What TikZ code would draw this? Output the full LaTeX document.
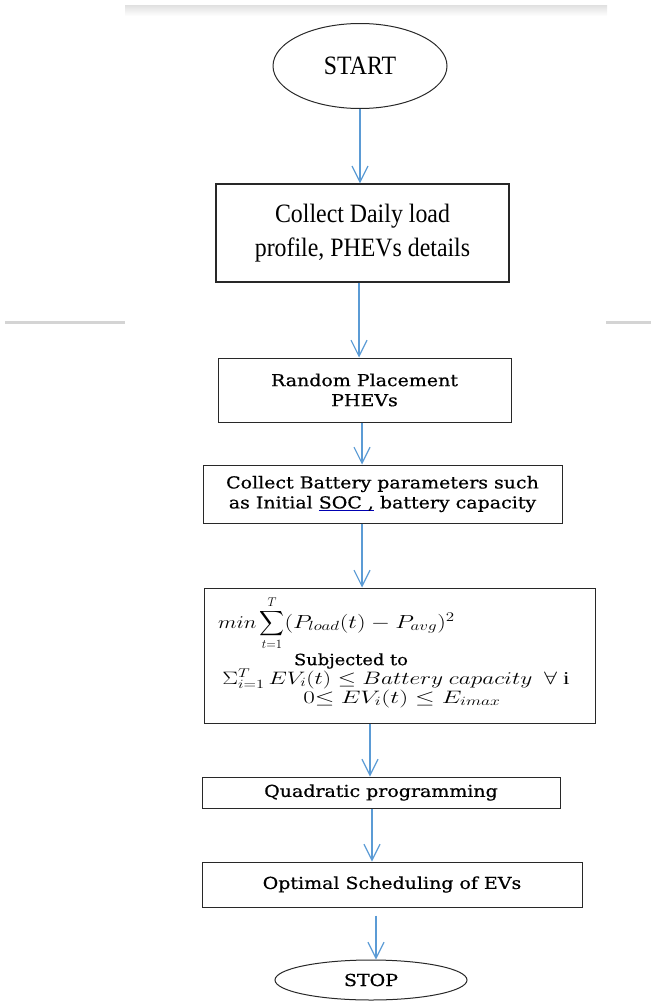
\RequirePackage{fix-cm}
\documentclass[tikz,border=0pt]{standalone}
\usepackage{exscale}
\usepackage{fontspec}
\usetikzlibrary{shapes.geometric,arrows.meta}
\setmainfont{Liberation Serif}
\newfontfamily\tallfont[FakeStretch=0.9]{Liberation Serif}
\newfontfamily\widefont[FakeStretch=1.15,FakeBold=0.6]{DejaVu Serif}
\definecolor{arrowblue}{RGB}{91,155,213}
\definecolor{boxline}{RGB}{40,40,40}
\newsavebox{\ulbox}
\newcommand{\blueul}[1]{\sbox{\ulbox}{#1}\rlap{\textcolor{blue!70!black}{\rule[-3pt]{\wd\ulbox}{1.2pt}}}\usebox{\ulbox}}
\tikzset{
  flowarrow/.style={draw=arrowblue, line width=1.2pt, -{Straight Barb[length=16pt,width=16pt,line width=1.2pt]}},
  termnode/.style={draw=boxline, ellipse, line width=1pt, inner sep=0pt},
  procbox/.style={draw=boxline, rectangle, line width=1pt, inner sep=0pt, align=center},
  bigtext/.style={font=\tallfont\fontsize{26.5}{34}\selectfont},
  smalltext/.style={font=\widefont\fontsize{16.5}{20}\selectfont},
  mathtext/.style={inner sep=0pt, font=\fontsize{18}{22}\selectfont},
}
\begin{document}
\begin{tikzpicture}[x=1pt,y=-1pt]
\useasboundingbox (0,0) rectangle (651,1001);
% faint gray bars of the scanned page
\shade[top color=black!12, bottom color=white] (125,5) rectangle (607,16);
\fill[black!17] (5,320.5) rectangle (125,323.5);
\fill[black!17] (606,320.5) rectangle (651,323.5);

% nodes
\node[termnode, minimum width=174pt, minimum height=85pt, bigtext] (start) at (360,66) {START};
\node[procbox, line width=1.3pt, minimum width=293pt, minimum height=98pt, bigtext] (collect) at (362.5,233) {Collect Daily load\\profile, PHEVs details};
\node[procbox, minimum width=293pt, minimum height=64pt, smalltext] (random) at (364.5,390) {Random Placement\\PHEVs};
\node[procbox, minimum width=359pt, minimum height=58pt, smalltext] (battery) at (382.5,494) {Collect Battery parameters such\\as Initial \blueul{SOC ,} battery capacity};
\node[procbox, minimum width=391pt, minimum height=135pt] (opt) at (399.5,655.5) {};
\node[procbox, minimum width=358pt, minimum height=31pt, smalltext] (quad) at (381,792.5) {Quadratic programming};
\node[procbox, minimum width=380pt, minimum height=45pt, smalltext] (sched) at (392,884.5) {Optimal Scheduling of EVs};
\node[termnode, minimum width=192pt, minimum height=40pt, smalltext] (stop) at (371,980) {STOP};

% formula inside the optimisation box
\node[mathtext, anchor=base west] (obj) at (218,628) {\scalebox{1.2}[1]{$min$}\,$\displaystyle\sum_{t=1}^{T}$\scalebox{1.35}[1.05]{$(P_{load}(t)-P_{avg})^{2}$}};
\node[mathtext, font=\widefont\fontsize{15.5}{18}\selectfont] (subj) at (351,661) {Subjected to};
\node[mathtext, anchor=base] (cons1) at (396,684) {\scalebox{1.3}[1]{$\Sigma_{i=1}^{T}\,EV_{i}(t)\le Battery\ capacity\ \ \forall\ \mathrm{i}$}};
\node[mathtext, anchor=base] (cons2) at (402,703) {\scalebox{1.4}[1]{$0{\le}\ EV_{i}(t)\le E_{imax}$}};

% arrow columns
\coordinate (c1) at (360,0);
\coordinate (c2) at (359,0);
\coordinate (c3) at (362,0);
\coordinate (c4) at (362,0);
\coordinate (c5) at (370,0);
\coordinate (c6) at (372,0);
\coordinate (c7) at (376,0);

\draw[flowarrow] (c1 |- start.south) -- (c1 |- collect.north);
\draw[flowarrow] (c2 |- collect.south) -- (c2 |- random.north);
\draw[flowarrow] (c3 |- random.south) -- (c3 |- battery.north);
\draw[flowarrow] (c4 |- battery.south) -- (c4 |- opt.north);
\draw[flowarrow] (c5 |- opt.south) -- (c5 |- quad.north);
\draw[flowarrow] (c6 |- quad.south) -- (c6 |- sched.north);
\draw[flowarrow] ([yshift=-8pt]c7 |- sched.south) -- (c7 |- stop.north);
\end{tikzpicture}
\end{document}
